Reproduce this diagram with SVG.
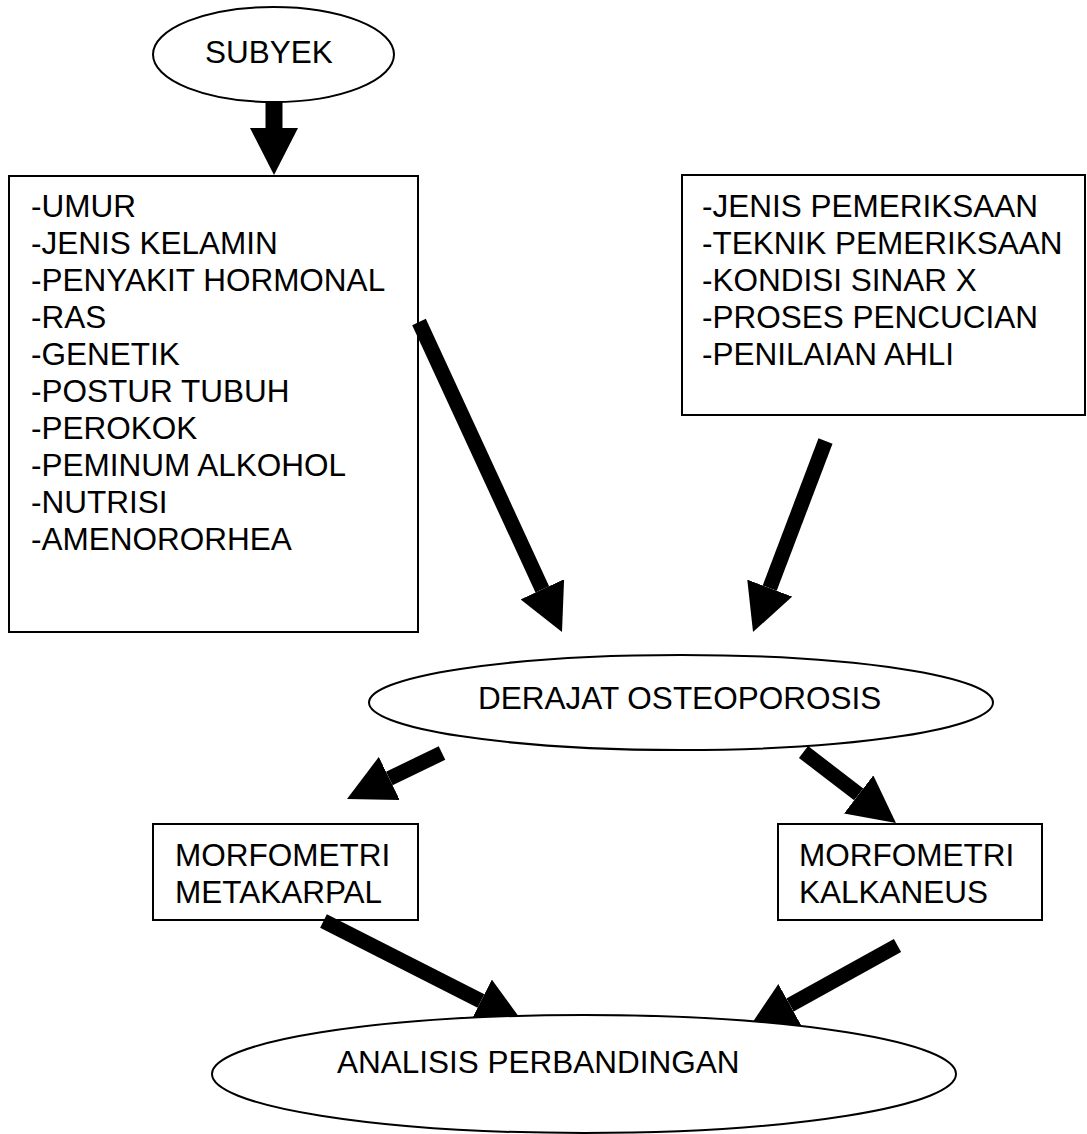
<svg xmlns="http://www.w3.org/2000/svg" width="1087" height="1134" viewBox="0 0 1087 1134">
<style>
  .box { fill: #ffffff; stroke: #000000; stroke-width: 2; }
  .oval { fill: #ffffff; stroke: #000000; stroke-width: 2; }
  .lbl { font-family: "Liberation Sans", Arial, sans-serif; font-size: 31.5px; fill: #000000; }
  .shaft { stroke: #000000; stroke-width: 15; fill: none; stroke-linecap: butt; marker-end: url(#head); }
</style>
<defs>
  <marker id="head" viewBox="0 0 47 48" markerWidth="47" markerHeight="48" refX="0" refY="24" orient="auto" markerUnits="userSpaceOnUse">
    <path d="M0,0 L47,24 L0,48 Z" fill="#000000"/>
  </marker>
</defs>
<rect width="1087" height="1134" fill="#ffffff"/>

<g id="faktor-subyek">
  <rect class="box" x="9" y="176" width="409" height="456"/>
  <text class="lbl" x="31" y="217">-UMUR</text>
  <text class="lbl" x="31" y="254">-JENIS KELAMIN</text>
  <text class="lbl" x="31" y="291">-PENYAKIT HORMONAL</text>
  <text class="lbl" x="31" y="328">-RAS</text>
  <text class="lbl" x="31" y="365">-GENETIK</text>
  <text class="lbl" x="31" y="402">-POSTUR TUBUH</text>
  <text class="lbl" x="31" y="439">-PEROKOK</text>
  <text class="lbl" x="31" y="476">-PEMINUM ALKOHOL</text>
  <text class="lbl" x="31" y="513">-NUTRISI</text>
  <text class="lbl" x="31" y="550">-AMENORORHEA</text>
</g>

<g id="faktor-teknik">
  <rect class="box" x="682" y="175" width="403" height="240"/>
  <text class="lbl" x="702" y="217">-JENIS PEMERIKSAAN</text>
  <text class="lbl" x="702" y="254">-TEKNIK PEMERIKSAAN</text>
  <text class="lbl" x="702" y="291">-KONDISI SINAR X</text>
  <text class="lbl" x="702" y="328">-PROSES PENCUCIAN</text>
  <text class="lbl" x="702" y="365">-PENILAIAN AHLI</text>
</g>

<g id="morfometri-metakarpal">
  <rect class="box" x="153" y="824" width="265" height="96"/>
  <text class="lbl" x="175" y="866">MORFOMETRI</text>
  <text class="lbl" x="175" y="903">METAKARPAL</text>
</g>

<g id="morfometri-kalkaneus">
  <rect class="box" x="778" y="824" width="264" height="96"/>
  <text class="lbl" x="799" y="866">MORFOMETRI</text>
  <text class="lbl" x="799" y="903">KALKANEUS</text>
</g>

<g id="connectors">
  <line class="shaft" x1="274" y1="102" x2="274" y2="128" style="stroke-width:17"/>
  <line class="shaft" x1="419" y1="322" x2="542.3" y2="589.3"/>
  <line class="shaft" x1="825.5" y1="441" x2="769.7" y2="588.1"/>
  <line class="shaft" x1="442" y1="753" x2="389.3" y2="778.5"/>
  <line class="shaft" x1="803.5" y1="752" x2="858.7" y2="794.4"/>
  <line class="shaft" x1="323.5" y1="921" x2="481" y2="1001"/>
  <line class="shaft" x1="897.5" y1="945.5" x2="790" y2="1005"/>
</g>

<g id="subyek">
  <ellipse class="oval" cx="273.5" cy="54.5" rx="120.5" ry="47.5"/>
  <text class="lbl" x="205" y="63">SUBYEK</text>
</g>

<g id="derajat-osteoporosis">
  <ellipse class="oval" cx="681" cy="702.5" rx="312" ry="47.5"/>
  <text class="lbl" x="478" y="709">DERAJAT OSTEOPOROSIS</text>
</g>

<g id="analisis-perbandingan">
  <ellipse class="oval" cx="584" cy="1074" rx="372" ry="59"/>
  <text class="lbl" x="337" y="1073">ANALISIS PERBANDINGAN</text>
</g>
</svg>
